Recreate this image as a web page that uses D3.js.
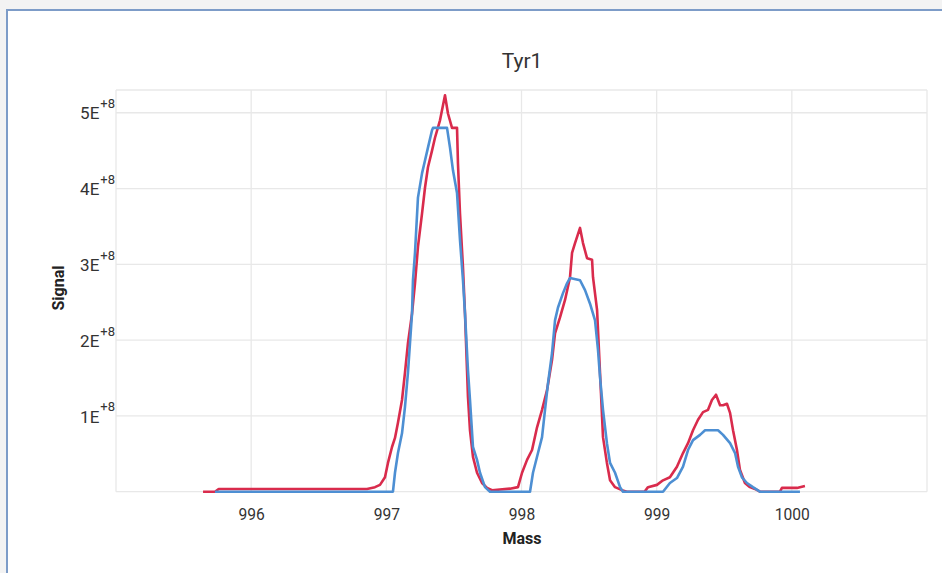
<!DOCTYPE html>
<html>
<head>
<meta charset="utf-8">
<script src="https://cdn.jsdelivr.net/npm/d3@7"></script>
<style>
  html, body { margin: 0; padding: 0; background: #f3f3f3; }
  svg { display: block; }
  text { font-family: Roboto, "Noto Sans", sans-serif; }
</style>
</head>
<body>
<svg id="chart" width="942" height="573"></svg>
<script>
// Tyr1 isotope envelope: signal vs. mass for two traces
const chartTitle = "Tyr1";
const xLabel = "Mass";
const yLabel = "Signal";

const xTicks = [996, 997, 998, 999, 1000];
const xGrid = [995, 996, 997, 998, 999, 1000, 1001];
const yTicks = [1e8, 2e8, 3e8, 4e8, 5e8];
const yGrid = [0, 1e8, 2e8, 3e8, 4e8, 5e8];

// red trace
const redMass = [995.644, 995.732, 995.760, 996.857, 996.916, 996.953, 996.990, 997.012, 997.042, 997.064,
  997.086, 997.116, 997.138, 997.160, 997.190, 997.212, 997.234, 997.264, 997.286, 997.308,
  997.338, 997.360, 997.397, 997.434, 997.456, 997.486, 997.523, 997.530, 997.545, 997.567,
  997.582, 997.597, 997.604, 997.619, 997.641, 997.671, 997.708, 997.745, 997.782, 997.915,
  997.974, 998.004, 998.041, 998.078, 998.115, 998.152, 998.189, 998.226, 998.248, 998.285,
  998.322, 998.359, 998.374, 998.396, 998.433, 998.455, 998.485, 998.522, 998.529, 998.559,
  998.573, 998.588, 998.603, 998.632, 998.655, 998.692, 998.743, 998.780, 998.910, 998.936,
  999.002, 999.047, 999.098, 999.150, 999.195, 999.232, 999.269, 999.306, 999.343, 999.380,
  999.409, 999.439, 999.469, 999.491, 999.520, 999.543, 999.565, 999.594, 999.616, 999.653,
  999.690, 999.727, 999.764, 999.912, 999.927, 1000.038, 1000.060, 1000.097];
const redSignal = [0, 0, 0.036e8, 0.036e8, 0.06e8, 0.09e8, 0.19e8, 0.38e8, 0.59e8, 0.71e8,
  0.91e8, 1.21e8, 1.57e8, 1.96e8, 2.35e8, 2.75e8, 3.23e8, 3.67e8, 4.01e8, 4.28e8,
  4.50e8, 4.67e8, 4.90e8, 5.23e8, 4.99e8, 4.80e8, 4.80e8, 4.33e8, 3.67e8, 2.96e8,
  2.35e8, 1.60e8, 1.25e8, 0.81e8, 0.46e8, 0.25e8, 0.115e8, 0.05e8, 0.02e8, 0.04e8,
  0.06e8, 0.25e8, 0.42e8, 0.55e8, 0.85e8, 1.08e8, 1.34e8, 1.74e8, 2.09e8, 2.30e8,
  2.53e8, 2.83e8, 3.15e8, 3.28e8, 3.48e8, 3.28e8, 3.08e8, 3.06e8, 2.83e8, 2.40e8,
  1.87e8, 1.30e8, 0.72e8, 0.38e8, 0.15e8, 0.06e8, 0.02e8, 0, 0, 0.06e8,
  0.09e8, 0.15e8, 0.19e8, 0.33e8, 0.51e8, 0.64e8, 0.81e8, 0.95e8, 1.05e8, 1.08e8,
  1.21e8, 1.28e8, 1.14e8, 1.14e8, 1.16e8, 1.04e8, 0.81e8, 0.55e8, 0.29e8, 0.115e8,
  0.06e8, 0.036e8, 0, 0, 0.05e8, 0.05e8, 0.06e8, 0.075e8];

// blue trace
const blueMass = [995.732, 997.049, 997.064, 997.086, 997.116, 997.138, 997.160, 997.190, 997.197, 997.212,
  997.234, 997.264, 997.286, 997.308, 997.338, 997.345, 997.449, 997.471, 997.493, 997.523,
  997.545, 997.567, 997.582, 997.604, 997.619, 997.641, 997.671, 997.693, 997.730, 997.767,
  998.063, 998.085, 998.122, 998.152, 998.174, 998.196, 998.226, 998.248, 998.270, 998.307,
  998.337, 998.359, 998.433, 998.470, 998.507, 998.544, 998.566, 998.581, 998.603, 998.632,
  998.655, 998.692, 998.729, 998.751, 999.047, 999.098, 999.150, 999.195, 999.232, 999.269,
  999.321, 999.358, 999.454, 999.491, 999.543, 999.580, 999.602, 999.631, 999.668, 999.712,
  999.764, 1000.060];
const blueSignal = [0, 0, 0.25e8, 0.51e8, 0.77e8, 1.12e8, 1.57e8, 2.35e8, 2.79e8, 3.15e8,
  3.88e8, 4.20e8, 4.37e8, 4.54e8, 4.77e8, 4.80e8, 4.80e8, 4.54e8, 4.24e8, 3.94e8,
  3.32e8, 2.79e8, 2.35e8, 1.60e8, 1.21e8, 0.59e8, 0.42e8, 0.25e8, 0.06e8, 0,
  0, 0.25e8, 0.51e8, 0.72e8, 1.08e8, 1.43e8, 1.83e8, 2.26e8, 2.43e8, 2.62e8,
  2.75e8, 2.82e8, 2.79e8, 2.66e8, 2.48e8, 2.26e8, 1.87e8, 1.51e8, 1.08e8, 0.64e8,
  0.38e8, 0.25e8, 0.06e8, 0, 0, 0.115e8, 0.18e8, 0.33e8, 0.55e8, 0.68e8,
  0.75e8, 0.81e8, 0.81e8, 0.75e8, 0.64e8, 0.51e8, 0.33e8, 0.19e8, 0.115e8, 0.06e8,
  0, 0];

const svg = d3.select("#chart");

// panel with blue frame on the top and left
svg.append("rect").attr("x", 7).attr("y", 10).attr("width", 942).attr("height", 573).attr("fill", "#ffffff");
svg.append("path").attr("d", "M7,573 V10 H942").attr("fill", "none")
  .attr("stroke", "#7d9cc8").attr("stroke-width", 2);

const x = d3.scaleLinear().domain([995, 1001]).range([116, 927]);
const y = d3.scaleLinear().domain([0, 5.3e8]).range([491.7, 90]);

// gridlines
const grid = svg.append("g").attr("stroke", "#e8e8e8").attr("stroke-width", 1.3);
grid.selectAll("line.v").data(xGrid).join("line")
  .attr("x1", d => x(d)).attr("x2", d => x(d)).attr("y1", y.range()[1]).attr("y2", y.range()[0]);
grid.selectAll("line.h").data(yGrid).join("line")
  .attr("x1", x.range()[0]).attr("x2", x.range()[1]).attr("y1", d => y(d)).attr("y2", d => y(d));
grid.append("line").attr("x1", x.range()[0]).attr("x2", x.range()[1])
  .attr("y1", y.range()[1]).attr("y2", y.range()[1]);

// x axis
const xAxis = svg.append("g").attr("transform", `translate(0,${y(0)})`)
  .call(d3.axisBottom(x).tickValues(xTicks).tickSize(0).tickPadding(16).tickFormat(d3.format("d")));
xAxis.select(".domain").remove();
xAxis.selectAll("text").attr("font-size", 17).attr("fill", "#333")
  .attr("transform", "scale(0.92,1)");

// y axis with exponent superscripts
const yAxis = svg.append("g").attr("transform", `translate(${x(995)},0)`)
  .call(d3.axisLeft(y).tickValues(yTicks).tickSize(0).tickPadding(1).tickFormat(d => `${d / 1e8}E`));
yAxis.select(".domain").remove();
yAxis.selectAll("text").attr("font-size", 17).attr("fill", "#333").attr("dy", "0.36em")
  .append("tspan").attr("font-size", 13).attr("dx", 1).attr("dy", "-0.85em").text("+8");

// traces
const line = d3.line().x(d => x(d[0])).y(d => y(d[1]));
const red = redMass.map((m, i) => [m, redSignal[i]]);
const blue = blueMass.map((m, i) => [m, blueSignal[i]]);
svg.append("path").datum(red).attr("d", line).attr("fill", "none")
  .attr("stroke", "#d92b4c").attr("stroke-width", 2.6).attr("stroke-linejoin", "round");
svg.append("path").datum(blue).attr("d", line).attr("fill", "none")
  .attr("stroke", "#4d8fd3").attr("stroke-width", 2.6).attr("stroke-linejoin", "round");

// titles
svg.append("text").attr("x", 522).attr("y", 68).attr("text-anchor", "middle")
  .attr("font-size", 21).attr("fill", "#333").text(chartTitle);
svg.append("text").attr("x", 522).attr("y", 544).attr("text-anchor", "middle")
  .attr("font-size", 16).attr("font-weight", "bold").attr("fill", "#222").text(xLabel);
svg.append("text").attr("transform", "translate(64,288) rotate(-90)").attr("text-anchor", "middle")
  .attr("font-size", 16).attr("font-weight", "bold").attr("fill", "#222").text(yLabel);
</script>
</body>
</html>
